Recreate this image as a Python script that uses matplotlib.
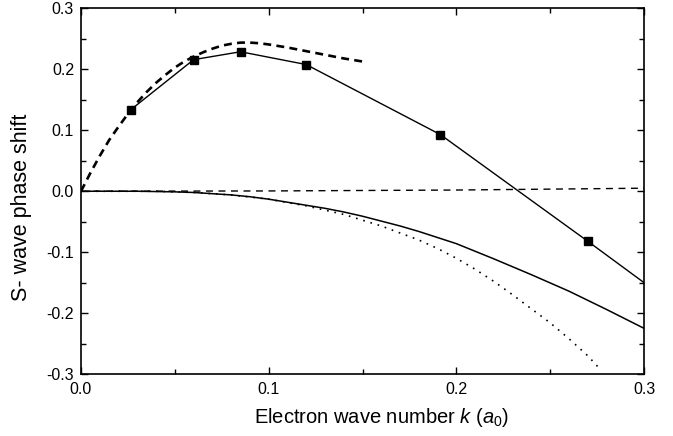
import matplotlib
matplotlib.use("Agg")
import matplotlib.pyplot as plt
from matplotlib.ticker import MultipleLocator, FormatStrFormatter

plt.rcParams['font.family'] = ['Liberation Sans', 'DejaVu Sans']
plt.rcParams['axes.unicode_minus'] = False
plt.rcParams['mathtext.fontset'] = 'custom'
plt.rcParams['mathtext.it'] = 'Liberation Sans:italic'
plt.rcParams['mathtext.rm'] = 'Liberation Sans'

# Square-marker series (solid line)
sq_k = [0.0266, 0.060, 0.085, 0.120, 0.1915, 0.270]
sq_d = [0.134, 0.216, 0.229, 0.208, 0.093, -0.082]
sq_end_k = [0.270, 0.300]
sq_end_d = [-0.082, -0.150]

# Thick dashed curve
thd_k = [0.0, 0.005, 0.010, 0.015, 0.020, 0.025, 0.030, 0.035, 0.040, 0.045,
         0.050, 0.055, 0.060, 0.065, 0.070, 0.075, 0.080, 0.085, 0.090, 0.095,
         0.100, 0.110, 0.120, 0.130, 0.140, 0.150]
thd_d = [0.0, 0.030, 0.058, 0.084, 0.106, 0.127, 0.146, 0.163, 0.178, 0.191,
         0.203, 0.213, 0.221, 0.228, 0.234, 0.239, 0.242, 0.244, 0.244, 0.243,
         0.241, 0.236, 0.230, 0.224, 0.218, 0.213]

# Thin dashed curve near zero
tnd_k = [0.0, 0.1, 0.2, 0.3]
tnd_d = [0.0, 0.0005, 0.002, 0.005]

# Thin solid curve
sol_k = [0.0, 0.03, 0.04, 0.05, 0.06, 0.07, 0.08, 0.09, 0.10, 0.11, 0.12, 0.13,
         0.14, 0.15, 0.16, 0.17, 0.18, 0.19, 0.20, 0.22, 0.24, 0.26, 0.28, 0.30]
sol_d = [0.0, 0.0, -0.0005, -0.001, -0.002, -0.004, -0.006, -0.009, -0.013, -0.018,
         -0.023, -0.028, -0.034, -0.041, -0.049, -0.057, -0.066, -0.076, -0.086,
         -0.111, -0.137, -0.164, -0.194, -0.225]

# Dotted curve
dot_k = [0.0, 0.04, 0.06, 0.08, 0.10, 0.12, 0.14, 0.16, 0.18, 0.19, 0.20, 0.21,
         0.22, 0.23, 0.24, 0.25, 0.26, 0.27, 0.276]
dot_d = [0.0, 0.0, -0.002, -0.006, -0.013, -0.024, -0.038, -0.057, -0.080, -0.094,
         -0.110, -0.128, -0.148, -0.170, -0.193, -0.216, -0.242, -0.270, -0.290]

fig = plt.figure(figsize=(6.73, 4.36), dpi=100)
ax = fig.add_axes([81/673, 1-374/436, (644-81)/673, (374-8.5)/436])

ax.plot(tnd_k, tnd_d, color='black', lw=1.0, linestyle=(0, (5, 4)))
ax.plot(sol_k, sol_d, color='black', lw=1.1)
ax.plot(dot_k, dot_d, color='black', lw=1.2, linestyle=(0, (1, 3.5)))
ax.plot(thd_k, thd_d, color='black', lw=1.9, linestyle=(0, (3, 2)))
ax.plot(sq_end_k, sq_end_d, color='black', lw=1.0)
ax.plot(sq_k, sq_d, color='black', lw=1.0, marker='s', ms=5.5)

ax.set_xlim(0, 0.3)
ax.set_ylim(-0.3, 0.3)
ax.xaxis.set_major_locator(MultipleLocator(0.1))
ax.xaxis.set_minor_locator(MultipleLocator(0.05))
ax.yaxis.set_major_locator(MultipleLocator(0.1))
ax.yaxis.set_minor_locator(MultipleLocator(0.05))
ax.tick_params(which='both', direction='in', top=True, right=True, labelsize=11.5, width=1.0)
ax.tick_params(which='major', length=5)
ax.tick_params(axis='x', which='major', pad=6)
ax.tick_params(axis='y', which='major', pad=5)
ax.tick_params(which='minor', length=3.5)
ax.xaxis.set_major_formatter(FormatStrFormatter('%.1f'))
ax.yaxis.set_major_formatter(FormatStrFormatter('%.1f'))
for s in ax.spines.values():
    s.set_linewidth(1.2)

ax.set_xlabel(r'Electron wave number $k$ ($a_{\mathit{0}}$)', fontsize=14.5)
ax.set_ylabel('S- wave phase shift', fontsize=15.5)
ax.xaxis.set_label_coords((382-81)/563, -(417-374)/365.5)
ax.yaxis.set_label_coords(-(81-22)/563, (374-207)/365.5)
ax.xaxis.label.set_va('center')
ax.yaxis.label.set_va('center')

fig.savefig('out.png', dpi=100)
